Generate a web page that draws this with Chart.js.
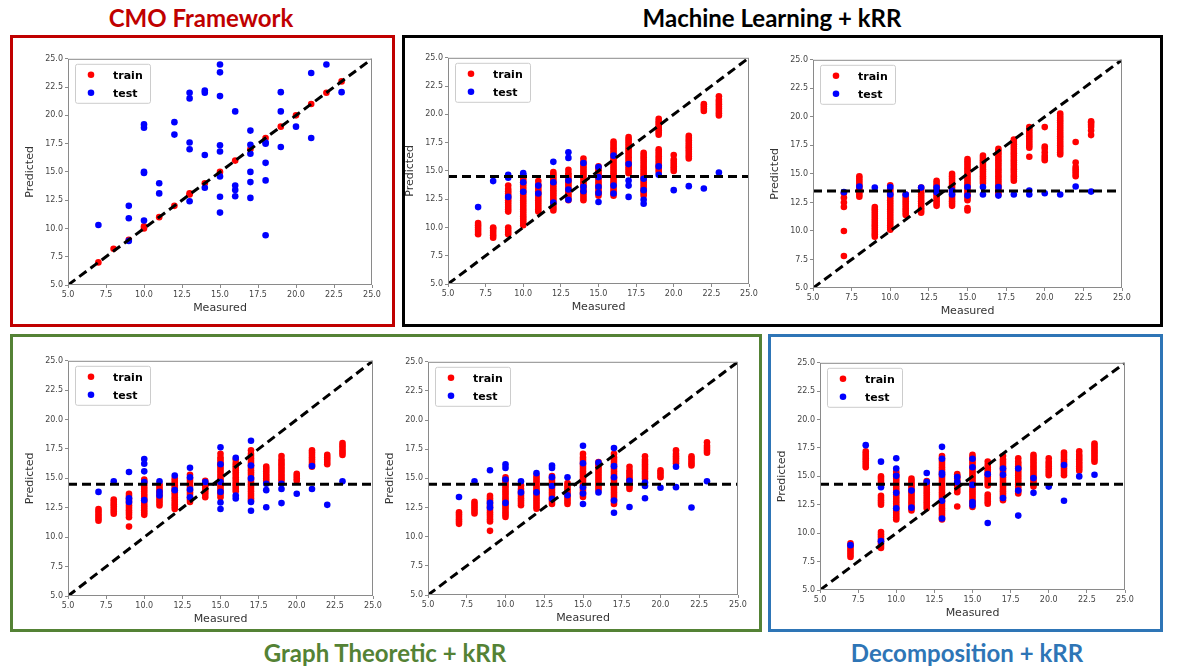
<!DOCTYPE html>
<html lang="en">
  <head>
    <meta charset="UTF-8" />
    <title>Measured vs Predicted</title>
    <script src="https://cdn.jsdelivr.net/npm/chart.js@4.4.0/dist/chart.umd.min.js"></script>
    <style>
      body { margin: 0; background: #fff; }
      #page { position: relative; width: 1177px; height: 668px; overflow: hidden; }
      .box { position: absolute; box-sizing: border-box; border: 3px solid; }
      .title {
        position: absolute; text-align: center; white-space: nowrap;
        font-family: Lato, "Open Sans", sans-serif; font-weight: bold; font-size: 24px;
        transform: translateY(-50%);
      }
      canvas { position: absolute; }
    </style>
  </head>
  <body>
    <div id="page">
      <div class="title" style="left:101px;width:200px;top:17px;color:#c00000">CMO Framework</div>
      <div class="title" style="left:572px;width:400px;top:17px;color:#000">Machine Learning + kRR</div>
      <div class="title" style="left:185px;width:400px;top:652px;color:#548235">Graph Theoretic + kRR</div>
      <div class="title" style="left:767px;width:400px;top:652px;color:#2e75b6">Decomposition + kRR</div>

      <div class="box" style="left:10px;top:35px;width:385px;height:292px;border-color:#c00000"></div>
      <div class="box" style="left:402px;top:35px;width:761px;height:292px;border-color:#000"></div>
      <div class="box" style="left:10px;top:334px;width:752px;height:298px;border-color:#548235"></div>
      <div class="box" style="left:768px;top:334px;width:395px;height:298px;border-color:#2e75b6"></div>
    </div>

    <script>
      // measured values (x); each series below lists predicted values per measured value
      const measured = [7, 8, 9, 10, 11, 12, 13, 14, 15, 16, 17, 18, 19, 20, 21, 22, 23];

      // CMO framework
      const cmoTrain = [
        [7.0], [8.2], [9.0], [10.0, 10.2], [11.0], [12.0], [13.0, 13.1], [14.0], [15.0],
        [16.0], [17.0], [18.0], [19.0], [20.0], [21.0], [22.0], [23.0],
      ];
      const cmoTest = [
        [10.3], [], [12.0, 10.9, 8.9], [19.2, 18.9, 15.0, 14.9, 10.7], [14.0, 13.1], [19.4, 18.3],
        [22.0, 21.5, 17.6, 17.0, 12.4], [22.2, 22.0, 16.5, 13.6],
        [24.5, 23.8, 21.7, 17.35, 16.8, 14.6, 12.8, 11.4], [20.35, 13.8, 13.4, 12.85],
        [18.65, 17.4, 16.6, 15.0, 14.1, 12.7], [17.6, 17.5, 15.8, 14.25, 9.4],
        [22.05, 20.35, 17.2], [19.0], [23.75, 18.0], [24.5], [22.05],
      ];

      // machine learning + kRR, first model
      const ml1Train = [
        [9.4, 9.6, 9.8, 10.0, 10.2, 10.4],
        [9.1, 9.3, 9.5, 9.7, 9.9, 10.0],
        [9.4, 9.6, 9.8, 10.0, 11.4, 11.6, 11.8, 12.0, 12.2, 12.4, 12.6, 12.8, 13.0, 13.2, 13.4, 13.7],
        [10.2, 10.4, 10.6, 10.8, 11.0, 11.2, 11.4, 11.6, 11.8, 12.0, 12.2, 12.4, 12.6, 12.8, 13.0, 13.2, 13.4, 13.6, 13.8, 14.0, 14.2, 14.4],
        [11.4, 11.6, 11.8, 12.0, 12.2, 12.4, 12.6, 12.8, 13.0, 13.2, 13.4, 13.6, 13.8, 14.1],
        [11.5, 11.7, 11.9, 12.1, 12.3, 12.5, 12.7, 12.9, 13.1, 13.3, 13.5, 13.7, 13.9, 14.1, 14.3, 14.5, 14.7, 14.9],
        [12.4, 12.6, 12.8, 13.0, 13.2, 13.4, 13.6, 13.8, 14.0, 14.2, 14.4, 14.6, 14.8, 15.1],
        [12.4, 12.6, 12.8, 13.0, 13.2, 13.4, 13.6, 13.8, 14.0, 14.2, 14.4, 14.6, 14.8, 15.0, 15.2, 15.4, 15.6, 15.8, 16.1],
        [12.8, 13.0, 13.2, 13.4, 13.6, 13.8, 14.0, 14.2, 14.4, 14.6, 14.8, 15.0, 15.2, 15.4],
        [12.8, 13.0, 13.2, 13.4, 13.6, 13.8, 14.0, 14.2, 14.4, 14.6, 14.8, 15.0, 15.2, 15.4, 15.6, 15.8, 16.0, 16.2, 16.4, 16.6, 16.8, 17.0, 17.2, 17.4, 17.6],
        [14.8, 15.0, 15.2, 15.4, 15.6, 15.8, 16.0, 16.2, 16.4, 16.6, 16.8, 17.0, 17.2, 17.4, 17.6, 17.8, 18.0],
        [12.8, 13.0, 13.2, 13.4, 13.6, 13.8, 14.0, 14.2, 14.4, 14.6, 14.8, 15.0, 15.2, 15.4, 15.6, 15.8, 16.0, 16.2, 16.4, 16.6],
        [14.9, 15.1, 15.3, 15.5, 15.7, 15.9, 16.1, 16.3, 16.5, 16.7, 16.9, 18.2, 18.4, 18.6, 18.8, 19.0, 19.2, 19.4, 19.6],
        [15.0, 15.2, 15.4, 15.6, 15.8, 16.0, 16.4],
        [16.1, 16.3, 16.5, 16.7, 16.9, 17.1, 17.3, 17.5, 17.7, 17.9, 18.1],
        [20.3, 20.5, 20.7, 20.9],
        [19.9, 20.1, 20.3, 20.5, 20.7, 20.9, 21.1, 21.3, 21.6],
      ];
      const ml1Test = [
        [11.8], [14.1], [14.65, 14.4, 12.7], [14.8, 14.65, 14.0, 13.15], [13.7, 13.0],
        [15.8, 14.0, 12.2], [16.65, 16.15, 14.15, 13.35, 12.45], [15.7, 13.6, 13.2],
        [15.35, 14.45, 13.6, 13.05, 12.25], [16.35, 13.7, 13.0], [15.6, 14.15, 13.7, 12.7],
        [14.3, 13.3, 12.45, 12.1], [15.4, 14.65], [13.3], [13.65], [13.45], [14.85],
      ];
      const ml1Mean = 14.5;

      // machine learning + kRR, second model
      const ml2Train = [
        [7.8, 10.0, 12.1, 12.5, 12.9, 13.3],
        [13.0, 13.2, 13.4, 13.6, 13.8, 14.0, 14.2, 14.4, 14.6, 14.8],
        [9.5, 9.7, 9.9, 10.1, 10.3, 10.5, 10.7, 10.9, 11.1, 11.3, 11.5, 11.7, 11.9, 12.1],
        [10.1, 10.3, 10.5, 10.7, 10.9, 11.1, 11.3, 11.5, 11.7, 11.9, 12.1, 12.3, 12.5, 12.7, 12.9, 13.1, 13.3, 13.5, 13.7, 14.0],
        [11.4, 11.6, 11.8, 12.0, 12.2, 12.4, 12.6, 12.8, 13.0, 13.2],
        [11.6, 11.8, 12.0, 12.2, 12.4, 12.6, 12.8, 13.0, 13.2, 13.4, 13.6, 13.8],
        [12.2, 12.4, 12.6, 12.8, 13.0, 13.2, 13.4, 13.6, 13.8, 14.0, 14.2, 14.4],
        [12.2, 12.4, 12.6, 12.8, 13.0, 13.2, 13.4, 13.6, 13.8, 14.0, 14.2, 14.4, 14.6, 14.8, 15.0],
        [11.8, 12.0, 12.7, 12.9, 13.1, 13.3, 13.5, 13.7, 13.9, 14.1, 14.3, 14.5, 14.7, 14.9, 15.1, 15.3, 15.5, 15.7, 15.9, 16.1, 16.3],
        [14.2, 14.4, 14.6, 14.8, 15.0, 15.2, 15.4, 15.6, 15.8, 16.0, 16.2, 16.4, 16.6],
        [13.2, 13.4, 13.6, 13.8, 14.0, 14.2, 14.4, 14.6, 14.8, 15.0, 15.2, 15.4, 15.6, 15.8, 16.0, 16.2, 16.4, 16.6, 16.8, 17.0, 17.2],
        [14.4, 14.6, 14.8, 15.0, 15.2, 15.4, 15.6, 15.8, 16.0, 16.2, 16.4, 16.6, 16.8, 17.0, 17.2, 17.4, 17.6, 17.8, 18.0],
        [16.5, 17.3, 17.5, 17.7, 17.9, 18.1, 18.3, 18.5, 18.7, 18.9, 19.1],
        [16.2, 16.4, 16.6, 16.9, 17.2, 17.4, 19.1],
        [16.7, 16.9, 17.1, 17.3, 17.5, 17.7, 17.9, 18.1, 18.3, 18.5, 18.7, 18.9, 19.1, 19.3, 19.5, 19.7, 19.9, 20.1, 20.3],
        [14.8, 15.0, 15.2, 15.4, 15.6, 16.0, 17.8],
        [18.4, 18.8, 19.1, 19.3, 19.5, 19.6],
      ];
      const ml2Test = [
        [13.4], [13.9], [13.8], [13.85, 13.2], [13.2], [13.8], [13.8, 13.4], [13.55, 13.2],
        [13.85, 13.1], [13.85, 13.2], [13.85, 13.1], [13.2], [13.55, 13.2], [13.3], [13.2], [13.9], [13.45],
      ];
      const ml2Mean = 13.5;

      // graph theoretic + kRR, first model
      const gt1Train = [
        [11.4, 11.6, 11.8, 12.0, 12.2, 12.4],
        [12.0, 12.2, 12.4, 12.6, 12.8, 13.0, 13.2],
        [10.9, 11.7, 11.9, 12.1, 12.3, 12.5, 12.7, 12.9, 13.1, 13.3, 13.5, 13.7],
        [11.9, 12.1, 12.3, 12.5, 12.7, 12.9, 13.1, 13.3, 13.5, 13.7, 13.9, 14.1, 14.3, 14.5, 14.7, 14.9],
        [12.7, 12.9, 13.1, 13.3, 13.5, 13.7, 13.9, 14.1, 14.3, 14.5],
        [12.4, 12.6, 12.8, 13.0, 13.2, 13.4, 13.6, 13.8, 14.0, 14.2, 14.4, 14.6, 14.8, 15.0],
        [13.0, 13.2, 13.4, 13.6, 13.8, 14.0, 14.2, 14.4, 14.6, 14.8, 15.0, 15.3],
        [13.4, 13.6, 13.8, 14.0, 14.2, 14.4, 14.6, 14.8],
        [13.4, 13.6, 13.8, 14.0, 14.2, 14.4, 14.6, 14.8, 15.0, 15.2, 15.4, 15.6, 15.8, 16.0, 16.2, 16.4, 16.6, 16.8, 17.1],
        [13.9, 14.1, 14.3, 14.5, 14.7, 14.9, 15.1, 15.3, 15.5, 15.7, 15.9, 16.1, 16.3, 16.6],
        [13.1, 13.3, 13.5, 13.7, 13.9, 14.1, 14.3, 14.5, 14.7, 14.9, 15.1, 15.3, 15.5, 15.7, 15.9, 16.1, 16.3, 16.5, 16.7, 16.9, 17.1, 17.4],
        [14.6, 14.8, 15.0, 15.2, 15.4, 15.6, 15.8, 16.0],
        [14.8, 15.0, 15.2, 15.4, 15.6, 15.8, 16.0, 16.2, 16.4, 16.6, 16.9],
        [14.8, 15.0, 15.2, 15.4],
        [16.0, 16.2, 16.4, 16.6, 16.8, 17.0, 17.2, 17.4],
        [16.2, 16.4, 16.6, 16.8, 17.0],
        [17.0, 17.2, 17.4, 17.6, 17.8, 18.0],
      ];
      const gt1Test = [
        [13.85], [14.75], [15.55, 13.3, 13.0], [16.65, 16.25, 15.6, 14.7, 13.15], [14.75, 13.85, 13.55],
        [15.25, 14.0], [15.9, 15.1, 14.05, 13.4], [14.7], [17.65, 16.2, 14.7, 13.85, 12.95, 12.4],
        [16.75, 13.55, 13.3], [18.2, 16.1, 15.0, 13.0, 12.25], [14.55, 14.0, 12.55], [14.55, 14.1, 12.9],
        [13.7], [16.05, 14.1], [12.75], [14.75],
      ];
      const gt1Mean = 14.5;

      // graph theoretic + kRR, second model
      const gt2Train = [
        [11.1, 11.3, 11.5, 11.7, 11.9, 12.1],
        [12.0, 12.2, 12.4, 12.6, 12.8, 13.0],
        [10.5, 11.3, 11.5, 11.7, 11.9, 12.1, 12.3, 12.5, 12.7, 12.9, 13.1, 13.3, 13.5],
        [11.7, 11.9, 12.1, 12.3, 12.5, 12.7, 12.9, 13.1, 13.3, 13.5, 13.7, 13.9, 14.1, 14.3, 14.5, 14.7, 14.9, 15.1],
        [12.7, 12.9, 13.1, 13.3, 13.5, 13.7, 13.9, 14.1, 14.4],
        [12.4, 12.6, 12.8, 13.0, 13.2, 13.4, 13.6, 13.8, 14.0, 14.2, 14.4, 14.6, 14.8, 15.0, 15.2],
        [12.8, 13.0, 13.2, 13.4, 13.6, 13.8, 14.0, 14.2, 14.4, 14.6, 14.8, 15.0, 15.2],
        [12.8, 13.0, 13.2, 13.4, 13.6, 13.8, 14.0, 14.2, 14.4, 14.6],
        [13.4, 13.6, 13.8, 14.0, 14.2, 14.4, 14.6, 14.8, 15.0, 15.2, 15.4, 15.6, 15.8, 16.0, 16.2, 16.4, 16.6, 16.8, 17.1],
        [14.0, 14.2, 14.4, 14.6, 14.8, 15.0, 15.2, 15.4, 15.6, 15.8, 16.0, 16.2, 16.4],
        [12.8, 13.0, 13.2, 13.4, 13.6, 13.8, 14.0, 14.2, 14.4, 14.6, 14.8, 15.0, 15.2, 15.4, 15.6, 15.8, 16.0, 16.2, 16.4, 16.6, 16.8, 17.1],
        [14.1, 14.3, 14.5, 14.7, 14.9, 15.1, 15.3, 15.5, 15.7, 16.0],
        [15.0, 15.2, 15.4, 15.6, 15.8, 16.0, 16.2, 16.4, 16.6, 16.9],
        [15.1, 15.3, 15.5, 15.7],
        [16.3, 16.5, 16.7, 16.9, 17.1, 17.4],
        [16.1, 16.3, 16.5, 16.7, 16.9],
        [17.2, 17.4, 17.6, 17.8, 18.1],
      ];
      const gt2Test = [
        [13.4], [14.75], [15.7, 12.9, 12.5], [16.2, 15.9, 14.9, 12.9], [14.75, 13.8], [15.45, 13.8],
        [16.1, 15.9, 15.1, 14.35, 13.25], [15.1, 13.55], [17.8, 16.3, 14.25, 13.7, 12.8], [16.35, 13.8],
        [17.6, 16.05, 15.1, 13.1, 12.05], [14.8, 12.55], [14.65, 14.35, 13.3], [14.2], [16.0, 14.25],
        [12.5], [14.75],
      ];
      const gt2Mean = 14.5;

      // decomposition + kRR
      const decTrain = [
        [7.9, 8.1, 8.3, 8.5, 8.7, 8.9, 9.1],
        [15.8, 16.0, 16.2, 16.4, 16.6, 16.8, 17.0, 17.2],
        [8.7, 8.9, 9.1, 9.3, 9.5, 9.7, 9.9, 10.1, 12.5, 12.7, 12.9, 13.1, 13.3, 14.4, 14.6, 14.8, 15.0],
        [11.2, 11.4, 11.6, 11.8, 12.0, 12.2, 12.4, 12.6, 12.8, 13.0, 13.2, 13.4, 13.6, 13.8, 14.0, 14.2, 14.4, 14.6, 14.8, 15.0, 15.2, 15.4],
        [12.0, 12.2, 12.4, 12.6, 12.8, 13.0, 13.2, 13.4, 13.6, 13.8, 14.0, 14.2, 14.4, 14.6, 14.8],
        [12.2, 12.4, 12.6, 12.8, 13.0, 13.2, 13.4, 13.6, 13.8, 14.0, 14.2, 14.4, 14.6],
        [11.2, 11.4, 11.6, 11.8, 12.0, 12.2, 12.4, 12.6, 12.8, 13.0, 13.2, 13.4, 13.6, 13.8, 14.0, 14.2, 14.4, 14.6, 14.8, 15.0, 15.2, 15.4, 15.6, 15.8, 16.0, 16.2, 16.4, 16.6, 16.8],
        [12.35, 13.6, 13.8, 14.0, 14.2, 14.4, 14.6, 14.8, 15.0, 15.2],
        [12.3, 12.5, 12.7, 12.9, 13.1, 13.3, 13.5, 13.7, 13.9, 14.1, 14.3, 14.5, 14.7, 14.9, 15.1, 15.3, 15.5, 15.7, 15.9, 16.1, 16.3, 16.5, 16.7, 16.9],
        [12.6, 12.8, 13.0, 13.2, 13.4, 14.2, 14.4, 14.6, 14.8, 15.0, 15.2, 15.4, 15.6, 15.8, 16.0, 16.3],
        [12.9, 13.1, 13.3, 13.5, 13.7, 13.9, 14.1, 14.3, 14.5, 14.7, 14.9, 15.1, 15.3, 15.5, 15.7, 15.9, 16.1, 16.3, 16.5, 16.8],
        [13.5, 13.7, 13.9, 14.1, 14.3, 14.5, 14.7, 14.9, 15.1, 15.3, 15.5, 15.7, 15.9, 16.1, 16.3, 16.6],
        [14.1, 14.3, 14.5, 14.7, 14.9, 15.1, 15.3, 15.5, 15.7, 15.9, 16.1, 16.3, 16.5, 16.7, 16.9],
        [15.1, 15.3, 15.5, 15.7, 15.9, 16.1, 16.3, 16.6],
        [15.1, 15.3, 15.5, 15.7, 15.9, 16.1, 16.3, 16.5, 16.7, 16.9, 17.1],
        [15.5, 15.7, 15.9, 16.1, 16.3, 16.5, 16.7, 16.9, 17.2],
        [16.3, 16.5, 16.7, 16.9, 17.1, 17.3, 17.5, 17.7, 17.9],
      ];
      const decTest = [
        [8.95], [17.75], [16.3, 14.05, 9.3], [16.6, 15.7, 15.05, 13.55, 12.2], [13.75, 12.25], [15.3, 14.5],
        [17.6, 16.55, 15.3, 15.15, 12.85, 11.3], [14.95, 14.5], [16.55, 15.8, 14.25, 12.75, 12.45],
        [15.2, 10.9], [15.7, 15.15, 13.1], [15.7, 13.75, 11.55], [14.85, 13.55], [14.1], [16.0, 12.85],
        [15.0], [15.15],
      ];
      const decMean = 14.3;

      const axisMin = 5;
      const axisMax = 25;

      // plot-area rectangles on the page (left, top, width, height)
      const panels = [
        { rect: [68, 58, 304, 227], train: cmoTrain, test: cmoTest, mean: null },
        { rect: [448, 57, 301, 227], train: ml1Train, test: ml1Test, mean: ml1Mean },
        { rect: [813, 59, 309, 229], train: ml2Train, test: ml2Test, mean: ml2Mean },
        { rect: [68, 360, 305, 236], train: gt1Train, test: gt1Test, mean: gt1Mean },
        { rect: [428, 361, 310, 234], train: gt2Train, test: gt2Test, mean: gt2Mean },
        { rect: [820, 362, 305, 228], train: decTrain, test: decTest, mean: decMean },
      ];

      const Y_W = 44, X_H = 30, PAD_T = 6, PAD_R = 12;
      Chart.defaults.font.family = "'DejaVu Sans', sans-serif";

      const toPoints = (cols) =>
        cols.flatMap((ys, i) => ys.map((y) => ({ x: measured[i], y: y })));

      // grey frame on all four sides, like matplotlib spines
      const framePlugin = {
        id: "frame",
        afterDraw(chart) {
          const { ctx, chartArea: a } = chart;
          ctx.save();
          ctx.strokeStyle = "#8a8a8a";
          ctx.lineWidth = 1;
          ctx.strokeRect(a.left + 0.5, a.top + 0.5, a.right - a.left - 1, a.bottom - a.top - 1);
          ctx.restore();
        },
      };

      // boxed legend inside the upper-left corner
      const insideLegend = {
        id: "insideLegend",
        afterDraw(chart) {
          const { ctx, chartArea: a } = chart;
          const items = chart.data.datasets.filter((d) => d.label === "train" || d.label === "test");
          items.sort((p, q) => (p.label === "train" ? -1 : 1));
          const bx = a.left + 7, by = a.top + 5, bw = 75, bh = 39;
          ctx.save();
          ctx.fillStyle = "rgba(255,255,255,0.85)";
          ctx.strokeStyle = "#cccccc";
          ctx.lineWidth = 1;
          ctx.beginPath();
          ctx.roundRect(bx + 0.5, by + 0.5, bw, bh, 2);
          ctx.fill();
          ctx.stroke();
          ctx.font = "bold 11px 'DejaVu Sans', sans-serif";
          ctx.textBaseline = "middle";
          items.forEach((d, i) => {
            const cy = by + 11 + i * 18;
            ctx.fillStyle = d.backgroundColor;
            ctx.beginPath();
            ctx.arc(bx + 16, cy, 3.3, 0, Math.PI * 2);
            ctx.fill();
            ctx.fillStyle = "#000";
            ctx.fillText(d.label, bx + 38, cy + 1);
          });
          ctx.restore();
        },
      };

      const page = document.getElementById("page");

      panels.forEach((p) => {
        const [left, top, w, h] = p.rect;
        const canvas = document.createElement("canvas");
        const cw = w + Y_W + PAD_R, ch = h + PAD_T + X_H;
        canvas.width = cw;
        canvas.height = ch;
        canvas.style.left = left - Y_W + "px";
        canvas.style.top = top - PAD_T + "px";
        canvas.style.width = cw + "px";
        canvas.style.height = ch + "px";
        page.appendChild(canvas);

        const datasets = [
          {
            label: "diag",
            data: [{ x: axisMin, y: axisMin }, { x: axisMax, y: axisMax }],
            showLine: true,
            borderColor: "#000",
            borderWidth: 3,
            borderDash: [9, 5],
            pointRadius: 0,
          },
        ];
        if (p.mean !== null) {
          datasets.push({
            label: "mean",
            data: [{ x: axisMin, y: p.mean }, { x: axisMax, y: p.mean }],
            showLine: true,
            borderColor: "#000",
            borderWidth: 3,
            borderDash: [9, 5],
            pointRadius: 0,
          });
        }
        datasets.push({
          label: "test",
          data: toPoints(p.test),
          backgroundColor: "#0000ff",
          borderWidth: 0,
          pointRadius: 3.3,
        });
        datasets.push({
          label: "train",
          data: toPoints(p.train),
          backgroundColor: "#ff0000",
          borderWidth: 0,
          pointRadius: 3.3,
        });

        const axisTicks = {
          stepSize: 2.5,
          autoSkip: false,
          maxRotation: 0,
          padding: 2,
          color: "#444",
          font: { size: 8 },
          callback: (v) => Number(v).toFixed(1),
        };

        new Chart(canvas, {
          type: "scatter",
          data: { datasets },
          options: {
            responsive: false,
            animation: false,
            layout: { padding: { left: 0, top: PAD_T, right: PAD_R, bottom: 0 } },
            plugins: { legend: { display: false }, tooltip: { enabled: false } },
            scales: {
              x: {
                min: axisMin,
                max: axisMax,
                ticks: axisTicks,
                grid: { drawOnChartArea: false, tickLength: 3, color: "#8a8a8a" },
                border: { display: false },
                title: { display: true, text: "Measured", color: "#333", font: { size: 11 }, padding: 0 },
                afterFit: (s) => { s.height = X_H; },
              },
              y: {
                min: axisMin,
                max: axisMax,
                ticks: axisTicks,
                grid: { drawOnChartArea: false, tickLength: 3, color: "#8a8a8a" },
                border: { display: false },
                title: { display: true, text: "Predicted", color: "#333", font: { size: 11 }, padding: 0 },
                afterFit: (s) => { s.width = Y_W; },
              },
            },
          },
          plugins: [framePlugin, insideLegend],
        });
      });
    </script>
  </body>
</html>
